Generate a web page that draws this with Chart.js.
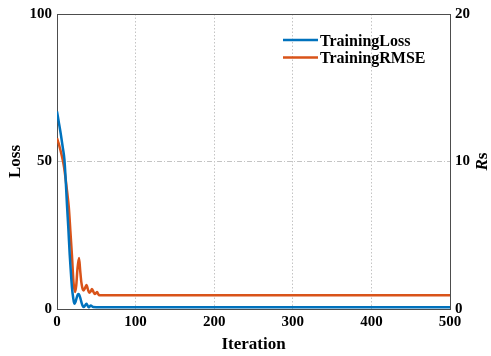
<!DOCTYPE html>
<html>
<head>
<meta charset="utf-8">
<script src="https://cdn.jsdelivr.net/npm/chart.js@4.4.1/dist/chart.umd.min.js"></script>
<style>
  html, body { margin: 0; padding: 0; background: #fff; }
  #wrap { width: 491px; height: 356px; }
</style>
</head>
<body>
<div id="wrap"><canvas id="c" width="491" height="356"></canvas></div>
<script>
// Training curves: loss on the left axis, RMSE on the right (Rs) axis
const lossIter = [0, 2.5, 5, 7.5, 9.5, 11, 12.7, 14.5, 16.2, 17.5, 19.1, 20.5, 22, 23.5, 25, 26.5, 27.5, 28.5, 30, 31.5, 33, 34, 35.5, 37.4, 38.5, 40, 41.5, 43, 44.5, 46, 50, 500];
const lossValues = [67, 63, 59, 54.5, 50.5, 44, 35.3, 27, 18.3, 13, 7.1, 4, 1.8, 2.4, 3.8, 4.9, 5.1, 4.7, 3.4, 1.9, 0.9, 0.7, 1.1, 1.8, 1.4, 0.6, 0.8, 1.2, 0.9, 0.65, 0.6, 0.6];

const rmseIter = [0, 2, 4, 7.3, 9, 11, 13, 15, 17, 19, 21, 23, 24.5, 26, 28, 29.5, 31, 33, 34, 35.5, 37.5, 39.5, 41, 43, 44.5, 46.5, 48, 50, 51, 52.5, 54, 500];
const rmseValues = [11.58, 11.25, 10.85, 10.1, 9.6, 8.8, 7.9, 6.9, 5.3, 3.66, 1.8, 1.16, 1.6, 2.7, 3.46, 2.6, 1.8, 1.3, 1.26, 1.4, 1.62, 1.3, 1.1, 1.2, 1.36, 1.15, 1.02, 1.1, 1.16, 1.0, 0.93, 0.93];

const seriesNames = ['TrainingLoss', 'TrainingRMSE'];
const seriesColors = ['#0072BD', '#D95319'];

const xTicks = [0, 100, 200, 300, 400, 500];
const lossTicks = [0, 50, 100];
const rsTicks = [0, 10, 20];

const FONT = '"Liberation Serif", "Times New Roman", serif';

const toPoints = (xs, ys) => xs.map((x, i) => ({ x: x, y: ys[i] }));

// frame around the plot area, drawn under the curves
const framePlugin = {
  id: 'frame',
  beforeDatasetsDraw(chart) {
    const a = chart.chartArea, ctx = chart.ctx;
    ctx.save();
    ctx.strokeStyle = '#4d4d4d';
    ctx.lineWidth = 1;
    ctx.strokeRect(Math.round(a.left) + 0.5, Math.round(a.top) + 0.5,
                   Math.round(a.right - a.left), Math.round(a.bottom - a.top));
    ctx.restore();
  }
};

// axis titles and the in-plot legend
const labelsPlugin = {
  id: 'labels',
  afterDraw(chart) {
    const ctx = chart.ctx, a = chart.chartArea;
    const midY = (a.top + a.bottom) / 2;
    ctx.save();
    ctx.fillStyle = '#000';
    ctx.textBaseline = 'middle';

    // left title
    ctx.save();
    ctx.translate(16, midY);
    ctx.rotate(-Math.PI / 2);
    ctx.textAlign = 'center';
    ctx.font = 'bold 17px ' + FONT;
    ctx.fillText('Loss', 0, 0);
    ctx.restore();

    // bottom title
    ctx.textAlign = 'center';
    ctx.font = 'bold 17px ' + FONT;
    ctx.fillText('Iteration', (a.left + a.right) / 2, 345);

    // right title: italic R, upright s
    ctx.save();
    ctx.translate(483, midY);
    ctx.rotate(-Math.PI / 2);
    ctx.textAlign = 'left';
    ctx.font = 'bold italic 17px ' + FONT;
    const wR = ctx.measureText('R').width;
    ctx.font = 'bold 17px ' + FONT;
    const wS = ctx.measureText('s').width;
    const x0 = -(wR + wS) / 2;
    ctx.font = 'bold italic 17px ' + FONT;
    ctx.fillText('R', x0, 0);
    ctx.font = 'bold 17px ' + FONT;
    ctx.fillText('s', x0 + wR, 0);
    ctx.restore();

    // legend
    ctx.textAlign = 'left';
    ctx.font = 'bold 16px ' + FONT;
    chart.data.datasets.forEach((ds, i) => {
      const y = 40 + i * 17.5;
      ctx.strokeStyle = ds.borderColor;
      ctx.lineWidth = 2.5;
      ctx.beginPath();
      ctx.moveTo(283, y);
      ctx.lineTo(318, y);
      ctx.stroke();
      ctx.fillText(ds.label, 320, y + 1.5);
    });
    ctx.restore();
  }
};

const gridColorAt = (keep) => (ctx) => (ctx.tick && keep.includes(ctx.tick.value)) ? '#c4c4c4' : 'rgba(0,0,0,0)';

new Chart(document.getElementById('c'), {
  type: 'line',
  data: {
    datasets: [
      {
        label: seriesNames[0],
        data: toPoints(lossIter, lossValues),
        yAxisID: 'y',
        borderColor: seriesColors[0],
        borderWidth: 2.5,
        pointRadius: 0,
        cubicInterpolationMode: 'monotone',
        fill: false
      },
      {
        label: seriesNames[1],
        data: toPoints(rmseIter, rmseValues),
        yAxisID: 'y2',
        borderColor: seriesColors[1],
        borderWidth: 2.5,
        pointRadius: 0,
        cubicInterpolationMode: 'monotone',
        fill: false
      }
    ]
  },
  options: {
    responsive: false,
    animation: false,
    devicePixelRatio: 1,
    layout: { padding: { top: 14, right: 0, left: 0, bottom: 0 } },
    plugins: { legend: { display: false }, tooltip: { enabled: false } },
    scales: {
      x: {
        type: 'linear',
        min: 0, max: 500,
        afterBuildTicks: (s) => { s.ticks = xTicks.map(v => ({ value: v })); },
        afterFit: (s) => { s.height = 47; },
        grid: { color: gridColorAt([100, 200, 300, 400]), drawTicks: false, lineWidth: 1 },
        border: { display: false, dash: [1.5, 2] },
        ticks: { color: '#000', padding: 4, maxRotation: 0, font: { family: FONT, size: 15, weight: 'bold' } }
      },
      y: {
        type: 'linear',
        position: 'left',
        min: 0, max: 100,
        afterBuildTicks: (s) => { s.ticks = lossTicks.map(v => ({ value: v })); },
        afterFit: (s) => { s.width = 57; },
        grid: { color: gridColorAt([50]), drawTicks: false, lineWidth: 1 },
        border: { display: false, dash: [5, 2, 1, 2] },
        ticks: { color: '#000', padding: 5, font: { family: FONT, size: 15, weight: 'bold' } }
      },
      y2: {
        type: 'linear',
        position: 'right',
        min: 0, max: 20,
        afterBuildTicks: (s) => { s.ticks = rsTicks.map(v => ({ value: v })); },
        afterFit: (s) => { s.width = 41; },
        grid: { display: false, drawTicks: false },
        border: { display: false },
        ticks: { color: '#000', padding: 5, font: { family: FONT, size: 15, weight: 'bold' } }
      }
    }
  },
  plugins: [framePlugin, labelsPlugin]
});
</script>
</body>
</html>
